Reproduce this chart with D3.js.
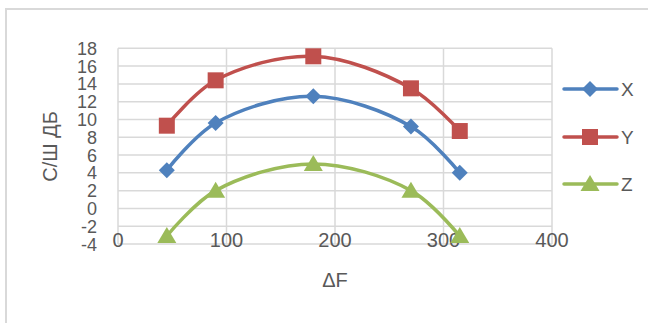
<!DOCTYPE html>
<html><head><meta charset="utf-8">
<script src="https://cdn.jsdelivr.net/npm/d3@7"></script>
<style>
html,body{margin:0;padding:0;background:#fff;}
svg{display:block;}
text{font-family:"Liberation Sans",Arial,sans-serif;fill:#595959;}
</style></head>
<body>
<svg id="chart" width="648" height="323"></svg>
<script>
const deltaF = [45, 90, 180, 270, 315];
const seriesNames = ["X", "Y", "Z"];
const valuesX = [4.3, 9.6, 12.6, 9.2, 4.0];
const valuesY = [9.3, 14.4, 17.1, 13.5, 8.7];
const valuesZ = [-3.1, 2.0, 5.0, 2.0, -3.1];
const xTicks = [0, 100, 200, 300, 400];
const yTicks = [-4, -2, 0, 2, 4, 6, 8, 10, 12, 14, 16, 18];
const colors = ["#4F81BD", "#C0504D", "#9BBB59"];
const markers = ["diamond", "square", "triangle"];

const series = [valuesX, valuesY, valuesZ].map((v, i) => ({
  name: seriesNames[i], color: colors[i], marker: markers[i],
  points: v.map((y, j) => ({x: deltaF[j], y}))
}));

const svg = d3.select("#chart");
// chart area border
svg.append("rect").attr("x", 6).attr("y", 9).attr("width", 700).attr("height", 400)
  .attr("fill", "#fff").attr("stroke", "#d9d9d9").attr("stroke-width", 2);

const x = d3.scaleLinear().domain([0, 400]).range([118, 552]);
const y = d3.scaleLinear().domain([-4, 18]).range([244, 48.3]);

// gridlines
const g = svg.append("g");
g.selectAll(".hg").data(yTicks).join("line")
  .attr("x1", x(0)).attr("x2", x(400))
  .attr("y1", d => y(d)).attr("y2", d => y(d))
  .attr("stroke", "#d9d9d9").attr("stroke-width", 1.5);
g.selectAll(".vg").data(xTicks).join("line")
  .attr("x1", d => x(d)).attr("x2", d => x(d))
  .attr("y1", y(18)).attr("y2", y(-4))
  .attr("stroke", "#d9d9d9").attr("stroke-width", 1.5);

// y tick labels
svg.selectAll(".yt").data(yTicks).join("text")
  .attr("x", 97).attr("y", d => y(d) + 6.5)
  .attr("text-anchor", "end").attr("font-size", 18)
  .text(d => d);
// x tick labels
svg.selectAll(".xt").data(xTicks).join("text")
  .attr("x", d => x(d)).attr("y", 246.5)
  .attr("text-anchor", "middle").attr("font-size", 20)
  .text(d => d);

// axis titles
svg.append("text").attr("transform", "translate(57,146.5) rotate(-90)")
  .attr("text-anchor", "middle").attr("font-size", 20).text("С/Ш ДБ");
svg.append("text").attr("x", 335).attr("y", 287)
  .attr("text-anchor", "middle").attr("font-size", 20).text("ΔF");

function markerPath(type) {
  if (type === "diamond") return "M0,-8L8,0L0,8L-8,0Z";
  if (type === "square") return "M-8,-8H8V8H-8Z";
  return "M0,-9L9.5,7H-9.5Z";
}

const line = d3.line().x(d => x(d.x)).y(d => y(d.y)).curve(d3.curveCatmullRom.alpha(0.5));

series.forEach(s => {
  svg.append("path").attr("d", line(s.points)).attr("fill", "none")
    .attr("stroke", s.color).attr("stroke-width", 3.5).attr("stroke-linecap", "round");
});
series.forEach(s => {
  svg.selectAll(null).data(s.points).join("path")
    .attr("transform", d => `translate(${x(d.x)},${y(d.y)})`)
    .attr("d", markerPath(s.marker)).attr("fill", s.color);
});

// legend
const legY = [89, 137, 184];
series.forEach((s, i) => {
  const lg = svg.append("g").attr("transform", `translate(0,${legY[i]})`);
  lg.append("line").attr("x1", 564).attr("x2", 617).attr("y1", 0).attr("y2", 0)
    .attr("stroke", s.color).attr("stroke-width", 3.5).attr("stroke-linecap", "round");
  lg.append("path").attr("transform", "translate(590,0)").attr("d", markerPath(s.marker)).attr("fill", s.color);
  lg.append("text").attr("x", 621).attr("y", 7).attr("font-size", 19).text(s.name);
});
</script>
</body></html>
